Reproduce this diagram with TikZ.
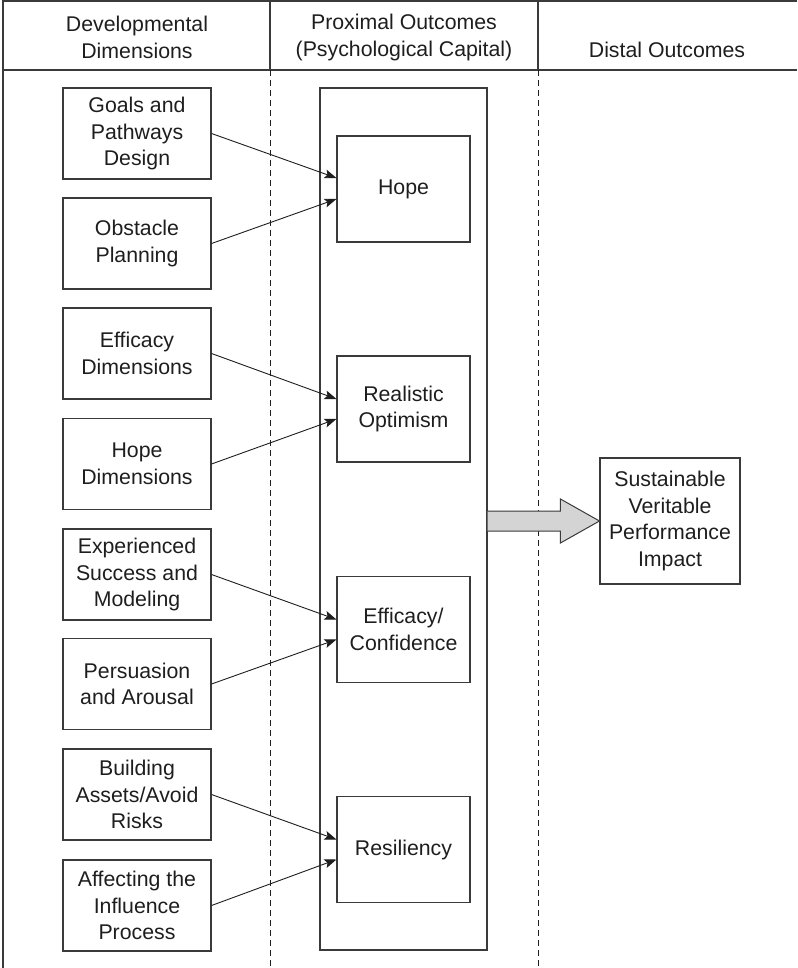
\documentclass[tikz,border=0pt]{standalone}
\usepackage{fontspec}
\setmainfont{Liberation Sans}
\usetikzlibrary{arrows.meta,calc}
\definecolor{ink}{HTML}{1E1E1E}
\definecolor{rule}{HTML}{3A3A3A}
\definecolor{arrowfill}{HTML}{D4D4D4}
\tikzset{
  txt/.style={text=ink, align=center, font=\fontsize{21.3}{26.5}\selectfont},
  dimbox/.style={txt, draw=rule, line width=1.1pt, minimum width=148pt,
    minimum height=91pt, inner sep=0pt},
  capbox/.style={dimbox, minimum width=133pt, minimum height=106pt},
  outbox/.style={dimbox, minimum width=140pt, minimum height=126pt},
  group/.style={draw=rule, line width=1.3pt, minimum width=167pt,
    minimum height=862pt, inner sep=0pt},
  link/.style={-{Stealth[length=12pt,width=9pt,inset=2.5pt]}, line width=0.9pt, ink},
  divider/.style={draw=ink, dash pattern=on 6pt off 4pt, line width=0.8pt},
  frame/.style={draw=rule, line width=1.3pt},
  colhead/.style={txt, inner sep=0pt}
}
\begin{document}
\begin{tikzpicture}[x=1pt,y=-1pt]
\useasboundingbox (0,0) rectangle (797,968);

% table frame and column rules
\draw[frame] (797,1) -- (3,1) -- (3,968);
\draw[frame] (3,70) -- (797,70);
\draw[frame] (270,1) -- (270,70);
\draw[frame] (538,1) -- (538,70);
\draw[divider] (270,70) -- (270,968);
\draw[divider] (538,70) -- (538,968);

% column headings
\node[colhead] (h1) at (137,37.5) {Developmental\\Dimensions};
\node[colhead] (h2) at (404,37.5) {Proximal Outcomes\\(Psychological Capital)};
\node[colhead] (h3) at (667,50) {Distal Outcomes};

% psychological capital group
\node[group] (prox) at (403.5,519) {};

% capacities
\node[capbox] (hope) at (403.5,189) {Hope};
\node[capbox] (opt)  at (403.5,409) {Realistic\\Optimism};
\node[capbox] (eff)  at (403.5,629.5) {Efficacy/\\Confidence};
\node[capbox] (res)  at (403.5,849.5) {Resiliency};

% developmental dimensions
\node[dimbox] (d1) at (137,133.5) {Goals and\\Pathways\\Design};
\node[dimbox] (d2) at (137,243.5) {Obstacle\\Planning};
\node[dimbox] (d3) at (137,353.5) {Efficacy\\Dimensions};
\node[dimbox] (d4) at (137,464) {Hope\\Dimensions};
\node[dimbox] (d5) at (137,574.5) {Experienced\\Success and\\Modeling};
\node[dimbox] (d6) at (137,684) {Persuasion\\and Arousal};
\node[dimbox] (d7) at (137,794.5) {Building\\Assets/Avoid\\Risks};
\node[dimbox] (d8) at (137,905.5) {Affecting the\\Influence\\Process};

% distal outcome
\node[outbox] (perf) at (670,521) {Sustainable\\Veritable\\Performance\\Impact};

% links from dimensions to capacities
\draw[link] (d1.east) -- ($(hope.west)+(0,-11)$);
\draw[link] (d2.east) -- ($(hope.west)+(0,10)$);
\draw[link] (d3.east) -- ($(opt.west)+(0,-10)$);
\draw[link] (d4.east) -- ($(opt.west)+(0,10)$);
\draw[link] (d5.east) -- ($(eff.west)+(0,-10)$);
\draw[link] (d6.east) -- ($(eff.west)+(0,10)$);
\draw[link] (d7.east) -- ($(res.west)+(0,-10)$);
\draw[link] (d8.east) -- ($(res.west)+(0,10)$);

% block arrow from capital to performance
\coordinate (tail) at (prox.east |- perf.west);
\draw[draw=rule, fill=arrowfill, line width=1pt, line join=miter]
  ($(tail)+(0,-10)$) -- ($(perf.west)+(-39,-10)$) -- ($(perf.west)+(-39,-22)$)
  -- (perf.west) -- ($(perf.west)+(-39,22)$) -- ($(perf.west)+(-39,10)$)
  -- ($(tail)+(0,10)$);
\end{tikzpicture}
\end{document}
